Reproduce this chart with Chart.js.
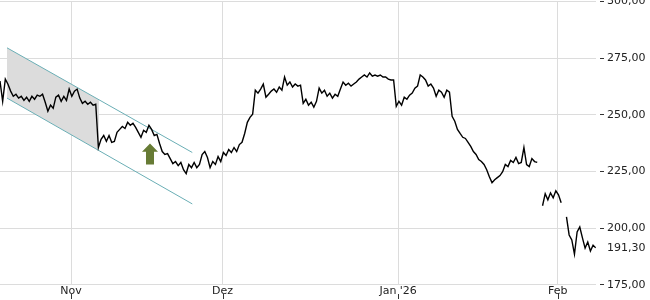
<!DOCTYPE html>
<html>
<head>
<meta charset="utf-8">
<script src="https://cdn.jsdelivr.net/npm/chart.js@4/dist/chart.umd.min.js"></script>
<style>
  html, body { margin: 0; padding: 0; background: #fff; overflow: hidden; }
  #wrap { position: absolute; left: 0; top: -8px; width: 650px; height: 308px; }
</style>
</head>
<body>
<div id="wrap"><canvas id="priceChart"></canvas></div>
<script>
// trading-day index, 3 quotes per session
const firstSession = 0.1;
const sessionsPerDay = 3;

const prices = [
  264.9, 256.0, 265.8, 263.5, 260.5, 258.2, 259.1, 257.4, 258.2, 256.4,
  257.8, 256.0, 258.2, 256.9, 258.7, 258.2, 259.1, 255.6, 251.6, 254.3,
  252.9, 257.8, 258.7, 256.0, 258.2, 256.4, 261.4, 258.2, 260.5, 261.4,
  257.4, 255.1, 256.0, 254.7, 255.6, 254.3, 254.7,
  235.6, 239.2, 240.9, 238.3, 240.9, 237.9, 238.3, 242.3, 243.6, 244.9,
  244.0, 246.7, 245.4, 246.3, 244.5, 242.3, 240.1, 243.2, 242.3, 245.4,
  243.6, 240.9, 241.4, 237.4, 233.8, 232.5, 232.9, 230.7, 228.5, 229.4,
  227.6, 229.0, 225.8, 224.1, 228.1, 226.7, 229.0, 226.7, 228.1,
  232.5, 233.8, 231.2, 226.7, 229.4, 228.1, 231.6, 229.4, 233.4, 232.1,
  234.7, 233.4, 235.6, 233.8, 236.9, 237.9, 241.8, 246.7, 248.9, 250.3,
  260.9, 259.6, 261.4, 263.6, 257.8, 259.1, 260.5, 261.4, 260.0, 262.3,
  260.9, 266.7, 263.1, 264.5, 262.3, 263.6, 262.7, 263.1,
  255.1, 256.9, 254.3, 255.6, 253.4, 256.0, 261.8, 259.6, 260.9, 258.2,
  259.6, 257.4, 259.1, 258.2, 261.4, 264.5, 263.1, 264.0, 262.7, 263.6,
  264.5, 265.8, 266.7, 267.6, 266.7, 268.5, 267.1, 267.6, 267.1, 267.6,
  266.7, 266.7, 265.8, 265.4, 265.4, 253.8, 256.0,
  254.3, 257.8, 256.9, 258.7, 259.6, 261.8, 262.7, 267.6, 266.7, 265.4,
  262.7, 263.6, 261.8, 258.2, 260.9, 260.0, 257.8, 260.9, 260.0, 249.4,
  247.2, 243.6, 241.8, 240.1, 239.6, 237.9, 236.1, 233.8, 232.5, 230.3,
  229.4, 228.1, 225.8, 222.7, 220.1, 221.4, 222.3, 223.2,
  224.9, 228.1, 227.2, 229.9, 229.0, 231.2, 228.5, 229.0, 235.6, 228.1,
  227.2, 230.7, 229.4, 229.0,
  null,
  209.9, 215.2, 212.5, 215.6, 213.4, 216.5, 214.7, 211.2,
  null,
  205.0, 197.0, 194.8, 188.5, 198.3, 200.5, 195.7, 191.2, 193.9, 189.9,
  192.5, 191.3
];

const monthStarts = [9, 28, 50, 70];
const monthLabels = ["Nov", "Dez", "Jan '26", "Feb"];
const yTicks = [175, 200, 225, 250, 275, 300];
const lastPrice = 191.3;

// trend channel + signal arrow
const channelDays = [0.98, 24.2];
const channelUpper = [279.6, 233.4];
const channelLower = [257.4, 210.7];
const shadeEndDay = 12.5;
const arrowDay = 18.9;
const arrowTop = 237.4;
const arrowBottom = 228.1;

const fmt = (v) => v.toFixed(2).replace(".", ",");

const points = prices.map((p, i) => ({ x: firstSession + i / sessionsPerDay, y: p }));

const annotations = {
  id: "annotations",
  beforeDatasetsDraw(chart) {
    const { ctx, scales: { x, y } } = chart;
    const lineAt = (arr, d) => arr[0] + (arr[1] - arr[0]) * (d - channelDays[0]) / (channelDays[1] - channelDays[0]);
    ctx.save();
    // shaded part of the channel
    ctx.fillStyle = "#dcdcdc";
    ctx.beginPath();
    ctx.moveTo(x.getPixelForValue(channelDays[0]), y.getPixelForValue(channelUpper[0]));
    ctx.lineTo(x.getPixelForValue(shadeEndDay), y.getPixelForValue(lineAt(channelUpper, shadeEndDay)));
    ctx.lineTo(x.getPixelForValue(shadeEndDay), y.getPixelForValue(lineAt(channelLower, shadeEndDay)));
    ctx.lineTo(x.getPixelForValue(channelDays[0]), y.getPixelForValue(channelLower[0]));
    ctx.closePath();
    ctx.fill();
    // channel lines
    ctx.strokeStyle = "#6aaeb5";
    ctx.lineWidth = 1;
    [channelUpper, channelLower].forEach((arr) => {
      ctx.beginPath();
      ctx.moveTo(x.getPixelForValue(channelDays[0]), y.getPixelForValue(arr[0]));
      ctx.lineTo(x.getPixelForValue(channelDays[1]), y.getPixelForValue(arr[1]));
      ctx.stroke();
    });
    // up arrow
    const ax = x.getPixelForValue(arrowDay);
    const top = y.getPixelForValue(arrowTop);
    const bot = y.getPixelForValue(arrowBottom);
    const head = (bot - top) * 0.4;
    ctx.fillStyle = "#677b35";
    ctx.beginPath();
    ctx.moveTo(ax, top);
    ctx.lineTo(ax + 8, top + head);
    ctx.lineTo(ax + 4, top + head);
    ctx.lineTo(ax + 4, bot);
    ctx.lineTo(ax - 4, bot);
    ctx.lineTo(ax - 4, top + head);
    ctx.lineTo(ax - 8, top + head);
    ctx.closePath();
    ctx.fill();
    ctx.restore();
  },
  afterDraw(chart) {
    // small tick marks under the month labels
    const { ctx, scales: { x } } = chart;
    ctx.save();
    ctx.strokeStyle = "#333";
    ctx.lineWidth = 1;
    monthStarts.forEach((d) => {
      const px = Math.round(x.getPixelForValue(d)) + 0.5;
      ctx.beginPath();
      ctx.moveTo(px, chart.height - 6);
      ctx.lineTo(px, chart.height - 1);
      ctx.stroke();
    });
    ctx.restore();
  },
};

new Chart(document.getElementById("priceChart"), {
  type: "line",
  data: {
    datasets: [
      {
        data: points,
        borderColor: "#000",
        borderWidth: 1.4,
        pointRadius: 0,
        tension: 0,
        spanGaps: false,
      },
    ],
  },
  options: {
    responsive: true,
    maintainAspectRatio: false,
    animation: false,
    layout: { padding: { left: 0, right: 0, top: 0, bottom: 2 } },
    plugins: { legend: { display: false }, tooltip: { enabled: false } },
    scales: {
      x: {
        type: "linear",
        min: 0.1,
        max: 74.8,
        afterBuildTicks: (s) => { s.ticks = monthStarts.map((v) => ({ value: v })); },
        ticks: {
          autoSkip: false,
          maxRotation: 0,
          padding: 0,
          color: "#222",
          font: { family: "DejaVu Sans", size: 11 },
          callback: (v) => monthLabels[monthStarts.indexOf(v)],
        },
        grid: { color: "#dcdcdc", drawTicks: false },
        border: { display: false },
      },
      y: {
        position: "right",
        min: 175,
        max: 300,
        afterBuildTicks: (s) => { s.ticks = [...yTicks, lastPrice].map((v) => ({ value: v })); },
        afterFit: (s) => { s.width = 54; },
        ticks: {
          padding: 3,
          color: "#222",
          font: { family: "DejaVu Sans", size: 11 },
          callback: (v) => fmt(v),
        },
        grid: {
          color: (c) => (c.tick && c.tick.value === lastPrice ? "rgba(0,0,0,0)" : "#dcdcdc"),
          tickColor: (c) => (c.tick && c.tick.value === lastPrice ? "rgba(0,0,0,0)" : "#333"),
          tickLength: 8,
          tickBorderDash: [0, 4, 4, 0],
        },
        border: { display: false },
      },
    },
  },
  plugins: [annotations],
});
</script>
</body>
</html>
